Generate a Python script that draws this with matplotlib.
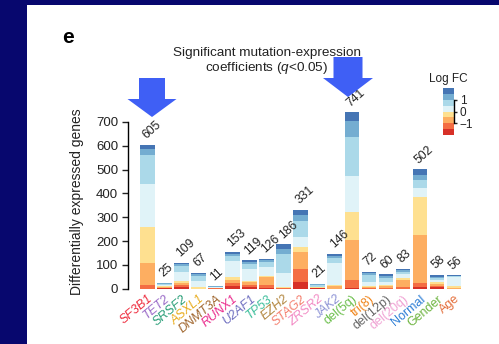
import matplotlib
matplotlib.use("Agg")
import matplotlib.pyplot as plt
from matplotlib.colors import ListedColormap
from matplotlib.patches import Polygon, Rectangle
import numpy as np

plt.rcParams['font.family'] = ['Liberation Sans', 'DejaVu Sans']
plt.rcParams['mathtext.fontset'] = 'custom'
plt.rcParams['mathtext.rm'] = 'Liberation Sans'
plt.rcParams['mathtext.it'] = 'Liberation Sans:italic'

W, H = 499, 344

# covariates and their label colours
names = ['SF3B1', 'TET2', 'SRSF2', 'ASXL1', 'DNMT3A', 'RUNX1', 'U2AF1', 'TP53',
         'EZH2', 'STAG2', 'ZRSR2', 'JAK2', 'del(5q)', 'tri(8)', 'del(12p)',
         'del(20q)', 'Normal', 'Gender', 'Age']
is_gene = [True] * 12 + [False] * 7
name_colors = ['#ee2a3c', '#9b6cc8', '#2a9f78', '#e9ad1f', '#a0662e', '#ea2a8c',
               '#6f6fc0', '#3fbf9c', '#b38740', '#f47f6e', '#f28ac4', '#8f95d6',
               '#6cbf4c', '#f0861e', '#666666', '#f0a3d4', '#2f7fd6', '#6db43f',
               '#e4703c']

# number of genes per log fold-change bin (lowest to highest)
fc_m20 = [0, 2, 6, 0, 0, 11, 6, 2, 0, 27, 2, 0, 3, 0, 0, 0, 8, 6, 0]
fc_m15 = [15, 3, 8, 0, 1, 14, 10, 14, 1, 56, 2, 0, 34, 3, 4, 9, 14, 6, 0]
fc_m10 = [94, 3, 12, 0, 2, 11, 14, 32, 3, 72, 1, 10, 168, 5, 6, 28, 203, 7, 2]
fc_m05 = [151, 3, 8, 8, 2, 12, 4, 6, 2, 19, 1, 6, 116, 2, 4, 7, 159, 10, 8]
fc_p00 = [180, 5, 38, 26, 3, 70, 49, 36, 61, 44, 3, 94, 151, 20, 14, 18, 37, 8, 40]
fc_p05 = [121, 4, 23, 19, 1, 19, 22, 21, 79, 68, 6, 18, 164, 28, 17, 10, 36, 9, 2]
fc_p10 = [26, 2, 7, 7, 1, 9, 8, 8, 21, 23, 3, 9, 67, 8, 8, 7, 20, 5, 2]
fc_p15 = [18, 3, 7, 7, 1, 7, 6, 7, 19, 22, 3, 9, 38, 6, 7, 4, 25, 7, 2]

bins = [fc_m20, fc_m15, fc_m10, fc_m05, fc_p00, fc_p05, fc_p10, fc_p15]
bin_edges = [-2, -1.5, -1, -0.5, 0, 0.5, 1, 1.5, 2]
bin_colors = ['#d73027', '#f46d43', '#fdae61', '#fee090',
              '#e0f3f8', '#abd9e9', '#74add1', '#4575b4']

fig = plt.figure(figsize=(W / 100, H / 100), dpi=100, facecolor='#07076e')
fig.patches.append(Rectangle((27 / W, 0), 1, (H - 5) / H, transform=fig.transFigure,
                             facecolor='white', edgecolor='none', zorder=-10))

# y scale: 700 genes span 166.7 px; axes extended to 760 so the tallest bar fits
ymax = 760
ax = fig.add_axes([128 / W, (H - 288.7) / H, 334.6 / W, 166.7 / 700 * ymax / H])
ax.set_facecolor('none')

x = np.arange(len(names))
bottom = np.zeros(len(names))
for counts, col in zip(bins, bin_colors):
    ax.bar(x, counts, bottom=bottom, width=0.87, color=col, linewidth=0)
    bottom += np.array(counts)

for xi, total in zip(x, bottom):
    ax.text(xi + 0.05, total + 14, f'{int(total)}', rotation=42, rotation_mode='anchor',
            ha='left', va='bottom', fontsize=8.8, color='#222222', clip_on=False)

ax.set_xlim(-1.15, 18.5)
ax.set_ylim(0, ymax)
ax.set_yticks(range(0, 701, 100))
ax.tick_params(axis='y', labelsize=9.5, length=4.5, width=1, pad=2.5, colors='#222222')
ax.tick_params(axis='x', length=0, pad=3)
ax.set_xticks(x)
ax.set_xticklabels(names, rotation=40, ha='right', va='top', rotation_mode='anchor',
                   fontsize=9)
for lab, col, gene in zip(ax.get_xticklabels(), name_colors, is_gene):
    lab.set_color(col)
    if gene:
        lab.set_style('italic')

for side in ['top', 'right', 'bottom']:
    ax.spines[side].set_visible(False)
ax.spines['left'].set_bounds(0, 700)
ax.spines['left'].set_linewidth(1)
ax.set_ylabel('Differentially expressed genes', fontsize=10, color='#222222')
ax.yaxis.set_label_coords(-0.131, 0.48)

# panel letter and title
fig.text(62 / W, 1 - 43 / H, 'e', fontsize=15, weight='bold', va='baseline')
fig.text(267 / W, 1 - 47 / H, 'Significant mutation-expression\ncoefficients ($q$<0.05)',
         ha='center', va='top', fontsize=9.7, color='#222222', linespacing=1.1)


def block_arrow(xc, top, neck, tip, shaft, head):
    pts = [(xc - shaft, top), (xc + shaft, top), (xc + shaft, neck), (xc + head, neck),
           (xc, tip), (xc - head, neck), (xc - shaft, neck)]
    pts = [(px / W, 1 - py / H) for px, py in pts]
    fig.patches.append(Polygon(pts, closed=True, transform=fig.transFigure,
                               facecolor='#3f5ff5', edgecolor='none', zorder=5))


block_arrow(152, 78, 99, 117, 13, 24.5)
block_arrow(348, 57, 78, 97, 14.5, 25)

# log fold-change key
cax = fig.add_axes([443 / W, (H - 135) / H, 11 / W, 47 / H])
levels = np.arange(len(bin_colors)).reshape(-1, 1)
cax.pcolormesh([0, 1], bin_edges, levels, cmap=ListedColormap(bin_colors))
cax.set_xlim(0, 1)
cax.set_ylim(-2, 2)
cax.set_xticks([])
for side in ['top', 'left', 'bottom']:
    cax.spines[side].set_visible(False)
cax.spines['right'].set_bounds(-1, 1)
cax.spines['right'].set_linewidth(1)
cax.yaxis.tick_right()
cax.set_yticks([-1, 0, 1])
cax.set_yticklabels(['\u22121', '0', '1'])
cax.tick_params(axis='y', length=2.5, width=1, pad=1.5, labelsize=8.5, colors='#222222')
cax.set_title('Log FC', fontsize=8.5, color='#222222', pad=4)

fig.savefig('out.png', dpi=100, facecolor=fig.get_facecolor())
